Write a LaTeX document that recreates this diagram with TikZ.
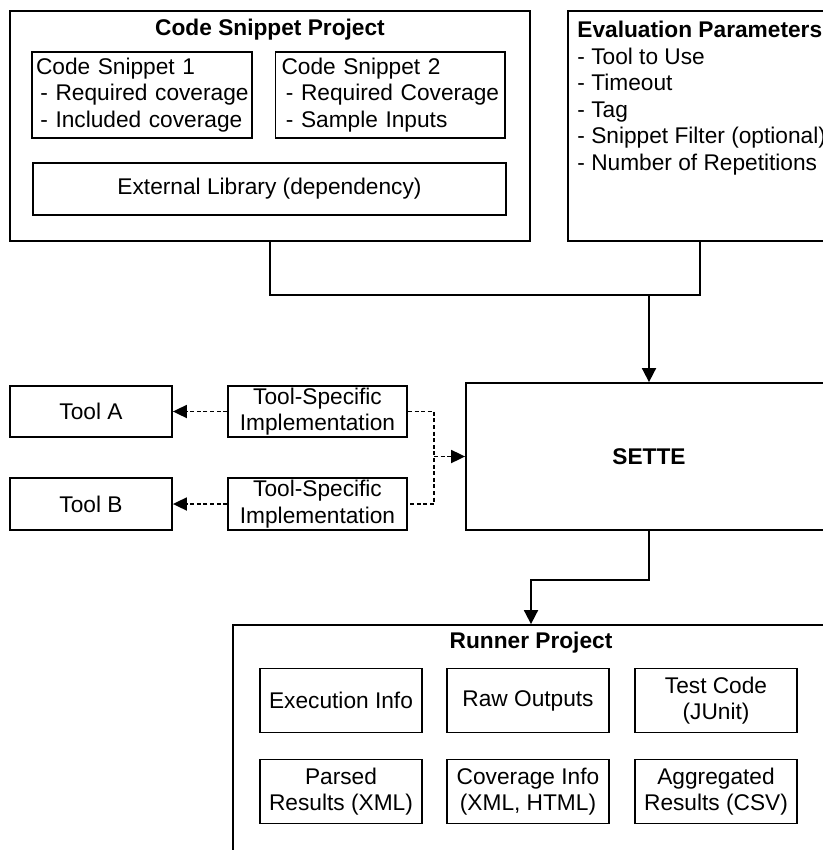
\documentclass[tikz,border=0pt]{standalone}
\usepackage{fontspec}
\setmainfont{Liberation Sans}
\usetikzlibrary{arrows.meta}
\begin{document}
\begin{tikzpicture}[x=0.5pt,y=-0.5pt,
  every node/.style={font=\fontsize{11.35}{13.25}\selectfont},
  box/.style={draw, line width=0.9pt, inner sep=0pt, align=center},
  ttl/.style={inner sep=0pt, font=\fontsize{11.35}{13.25}\selectfont\bfseries},
  conn/.style={line width=0.9pt},
  arr/.style={conn, -{Triangle[length=7pt,width=7pt]}},
  dotconn/.style={line width=0.9pt, dash pattern=on 2pt off 1.3pt},
  dotarr/.style={dotconn, -{Triangle[length=7pt,width=6.5pt]}},
  inner/.style={box, minimum width=81pt, minimum height=32pt}
]
\useasboundingbox (0,0) rectangle (823,850);
\clip (0,0) rectangle (823,850);

% Code Snippet Project
\node[box, minimum width=260pt, minimum height=115pt] (csp) at (270,126) {};
\node[ttl] (csptitle) at (270,30) {Code Snippet Project};
\node[box, minimum width=110pt, minimum height=43pt, align=left, text width=106pt, inner xsep=2pt] (snip1) at (142,95)
  {\mbox{Code Snippet 1}\\\mbox{\hspace*{2.2pt}- Required coverage}\\\mbox{\hspace*{2.2pt}- Included coverage}};
\node[box, minimum width=114.75pt, minimum height=43pt, align=left, text width=108.75pt, inner xsep=3pt] (snip2) at (390.25,95)
  {\mbox{Code Snippet 2}\\\mbox{\hspace*{2.2pt}- Required Coverage}\\\mbox{\hspace*{2.2pt}- Sample Inputs}};
\node[box, minimum width=236.5pt, minimum height=26pt] (extlib) at (269.5,189) {External Library (dependency)};

% Evaluation Parameters
\node[box, minimum width=132pt, minimum height=115pt] (eval) at (700,126) {};
\node[anchor=north west, align=left, inner sep=0pt] (evaltext) at (577,21)
  {\textbf{Evaluation Parameters}\\- Tool to Use\\- Timeout\\- Tag\\- Snippet Filter (optional)\\- Number of Repetitions};

% SETTE
\node[box, minimum width=183pt, minimum height=73.5pt] (sette) at (649,456.5) {\bfseries SETTE};

\coordinate (j1) at (270,295);
\coordinate (j2) at (700,295);
\coordinate (j3) at (649,295);
\draw[conn] (csp.south) -- (j1) -- (j2) -- (eval.south);
\draw[arr] (j3) -- (sette.north);

% Tools
\node[box, minimum width=81pt, minimum height=25.5pt] (toola) at (91,411.5) {Tool A};
\node[box, minimum width=89.5pt, minimum height=25.5pt] (impla) at (317.5,411.5) {Tool-Specific\\Implementation};
\node[box, minimum width=81pt, minimum height=26pt] (toolb) at (91,504) {Tool B};
\node[box, minimum width=89.5pt, minimum height=26pt] (implb) at (317.5,504) {Tool-Specific\\Implementation};

\coordinate (m1) at (434,411.5);
\coordinate (m2) at (434,504);
\coordinate (m3) at (434,456.5);
\draw[dotconn] (impla.east) -- (m1) -- (m2) -- (implb.east);
\draw[dotarr] (m3) -- (sette.west);
\draw[dotarr] (impla.west) -- (toola.east);
\draw[dotarr] (implb.west) -- (toolb.east);

% Runner Project
\node[box, minimum width=298pt, minimum height=130pt] (runner) at (531,755) {};
\node[ttl] (runtitle) at (531,643) {Runner Project};
\coordinate (r1) at (649,580);
\coordinate (r2) at (531,580);
\draw[arr] (sette.south) -- (r1) -- (r2) -- (runner.north);

\node[inner] (exec) at (341,700.5) {Execution Info};
\node[inner] (raw) at (528,700.5) {Raw Outputs};
\node[inner] (test) at (716,700.5) {Test Code\\(JUnit)};
\node[inner] (parsed) at (341,791.5) {Parsed\\Results (XML)};
\node[inner] (cov) at (528,791.5) {Coverage Info\\(XML, HTML)};
\node[inner] (agg) at (716,791.5) {Aggregated\\Results (CSV)};
\end{tikzpicture}
\end{document}
